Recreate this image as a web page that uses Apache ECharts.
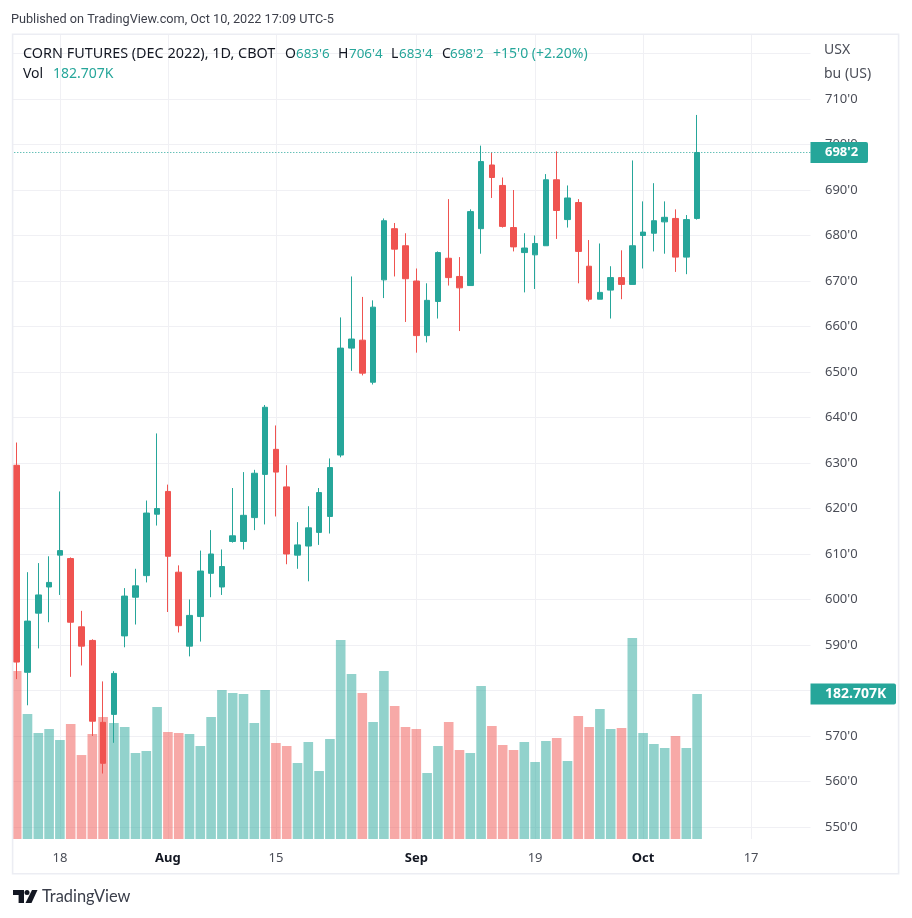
<!DOCTYPE html>
<html>
<head>
<meta charset="utf-8">
<title>Corn futures</title>
<script src="https://cdn.jsdelivr.net/npm/echarts@6/dist/echarts.min.js"></script>
<style>
  html,body{margin:0;padding:0;background:#fff;}
  #chart{width:912px;height:918px;}
</style>
</head>
<body>
<div id="chart"></div>
<script>
// prices in cents/bu (trading days from Jul 12 to Oct 10)
const openVals = [629.5,584,597,602.75,609.75,609,594,591,573,574.75,592,600.5,605.25,618.75,623.75,606,
  589.75,596.25,605.75,602.75,612.75,612.75,618,627.5,633,624.75,609.75,611.75,614.75,618.25,631.75,655.25,
  657,647.75,670.25,681.5,677.75,670,658,665.5,675,671,669,681.5,695.5,691,
  681.75,676.25,675.75,677.75,692.25,683.5,687.25,673.25,666,668,670.75,669.25,680,680.5,683,683.75,675.25,683.75];
const closeVals = [586.25,595.25,601,603.75,610.75,595,589.75,573.25,564,583.75,600.75,603,619,620,609.5,594.25,
  596.5,606.25,610,607.25,614,618.5,627.75,642.25,628,610,612,615.75,623.5,629,655.25,657.25,
  649.75,664.25,683.25,677,670.5,658,665.75,676.25,670.75,668.5,685.25,696.25,692.75,682,
  677.5,677.25,678.25,692.25,685.5,688.25,676.5,666,667.5,670.75,669.25,677.75,680.75,683.25,684,675.25,683.5,698.25];
const lowVals = [582.5,576.75,589.25,595,601,583,585.5,570,561.75,568.5,589.5,594.5,603.75,616.25,597.25,592.75,
  587.5,590.75,600.5,601,612.5,611,615.25,616.5,618.25,607.75,606.75,604,612,614.5,631.25,650.25,
  649.25,647.25,666.25,671,661,654.25,656.5,661.75,669,659,669,676,688.25,681.75,
  676.5,667.5,668.25,677.75,679.25,681.75,669.5,665.5,666,661.75,666,669.25,672.75,676.5,676,672,671.5,683.5];
const highVals = [634.5,606,608,609.5,623.75,609.25,597.5,591.25,582,584.25,602.5,606.75,621.75,636.5,625.25,607.5,
  600,610.75,615.25,611,624.5,628,628.5,642.75,638.25,629.5,617,620.5,624.5,631,662,671,
  666.5,665.75,683.75,682.75,680.5,672.75,669.5,676.5,688,675.25,685.75,699.75,698.25,692.75,
  690,680.5,680,693.5,698.5,691,688,679,678.25,673.25,676.75,696.5,687.5,691.5,687.5,685.75,684.5,706.5];
// volume in thousands
const volumes = [211.7,157.5,133.6,138.6,124.7,144.9,105.8,132.3,153.7,146.2,141.1,108.4,110.9,166.3,134.8,133.6,
  132.3,117.2,153.7,187.7,184,182.7,146.2,187.7,121,117.2,95.8,122.2,85.7,126,250.7,207.9,
  184,147.4,211.7,167.6,141.1,138.6,83.2,117.2,147.4,112.1,108.4,192.8,142.4,118.4,
  112.1,122.2,97,123.5,127.3,98.3,155,141.1,163.8,138.6,139.9,253.3,133.6,119.7,114.7,129.8,114.7,182.707];

const tickIndex = [4,14,24,37,48,58,68];
const tickText = ["18","Aug","15","Sep","19","Oct","17"];
const monthTicks = ["Aug","Sep","Oct"];
const BAND_COUNT = 74; // 64 sessions + empty space on the right

const UP = "#26a69a", DOWN = "#ef5350";
const UP_VOL = "rgba(38,166,154,0.5)", DOWN_VOL = "rgba(239,83,80,0.5)";
const GRID_LINE = "#f0f0f4", BORDER = "#ecedf3", TEXT = "#131722", AXIS_TEXT = "#4a4d57";
const FONT = '"Noto Sans", sans-serif';

const categories = Array.from({length:BAND_COUNT},(_,i)=>{
  const k = tickIndex.indexOf(i);
  return k>=0 ? tickText[k] : "";
});
const candles = openVals.map((o,i)=>[o,closeVals[i],lowVals[i],highVals[i]]);
const last = openVals.length-1;

// legend line: x, text, colour, font size
const legendLine1 = [
  [23,"CORN FUTURES (DEC 2022), 1D, CBOT",TEXT,14.4],[285,"O",TEXT,14],[296,"683'6",UP,13.4],
  [338,"H",TEXT,14],[349,"706'4",UP,13.4],[391,"L",TEXT,14],[399,"683'4",UP,13.4],[442,"C",TEXT,14],[450,"698'2",UP,13.4],
  [493,"+15'0 (+2.20%)",UP,14]
];
const legendLine2 = [[23,"Vol",TEXT,14],[53,"182.707K",UP,14]];

const txt = (x,y,s,fill,size=13,family=FONT) => ({
  type:"text",x,y,z:12,silent:true,
  style:{text:s,fill,font:`${size}px ${family}`,textVerticalAlign:"middle",textAlign:"left"}
});

const chart = echarts.init(document.getElementById("chart"));

chart.setOption({
  animation:false,
  backgroundColor:"#fff",
  textStyle:{fontFamily:FONT},
  grid:{left:11.3,top:35,width:BAND_COUNT*10.8,height:804},
  xAxis:{
    type:"category",data:categories,boundaryGap:true,
    axisLine:{show:false},axisTick:{show:false},
    axisLabel:{
      interval:(i,v)=>v!=="",margin:13,color:AXIS_TEXT,fontSize:13,
      formatter:(v)=>monthTicks.includes(v)?`{m|${v}}`:v,
      rich:{m:{fontWeight:"bold",color:TEXT,fontSize:13}}
    },
    splitLine:{show:true,alignWithLabel:true,interval:(i,v)=>v!=="",lineStyle:{color:GRID_LINE,width:1}}
  },
  yAxis:[
    {
      type:"value",position:"right",min:547.36,max:724.07,scale:true,
      splitNumber:17,minInterval:10,maxInterval:10,
      axisLine:{show:false},axisTick:{show:false},
      axisLabel:{
        color:AXIS_TEXT,fontSize:13,margin:14.5,showMinLabel:false,showMaxLabel:false,
        formatter:(v)=>(v%10===0 && v<=710)?`${v}'0`:""
      },
      splitLine:{show:true,showMinLine:false,showMaxLine:false,lineStyle:{color:GRID_LINE,width:1}}
    },
    {type:"value",show:false,min:0,max:1013.1,splitLine:{show:false}}
  ],
  series:[
    {
      name:"Vol",type:"bar",yAxisIndex:1,z:1,barWidth:9.6,
      data:volumes.map((v,i)=>({value:v,itemStyle:{color:closeVals[i]>=openVals[i]?UP_VOL:DOWN_VOL}}))
    },
    {
      name:"Corn",type:"candlestick",yAxisIndex:0,z:2,barWidth:6,clip:true,data:candles,
      itemStyle:{color:UP,color0:DOWN,borderColor:UP,borderColor0:DOWN,borderWidth:1},
      markLine:{
        silent:true,symbol:"none",animation:false,label:{show:false},
        lineStyle:{type:[1,2],color:UP,width:1},
        data:[{yAxis:closeVals[last]}]
      }
    }
  ]
});

const right = 11.3+BAND_COUNT*10.8;
const priceY = chart.convertToPixel({yAxisIndex:0},closeVals[last]);
const volY = chart.convertToPixel({yAxisIndex:1},volumes[last]);

const badge = (y,w,s,size) => ({
  type:"group",z:11,silent:true,children:[
    {type:"rect",z:11,shape:{x:right,y:y-10.5,width:w,height:21,r:[0,2,2,0]},style:{fill:UP}},
    {type:"text",z:12,x:825,y:y,style:{text:s,fill:"#fff",font:`bold ${size}px ${FONT}`,textAlign:"left",textVerticalAlign:"middle"}}
  ]
});

// frame, header, badges, logo are page furniture around the plot
chart.setOption({
  graphic:{elements:[
    {type:"rect",z:10,silent:true,shape:{x:9,y:34,width:3,height:840},style:{fill:"#fff"}},
    {type:"rect",z:10,silent:true,shape:{x:12.6,y:34.2,width:886,height:839.6},style:{fill:"none",stroke:BORDER,lineWidth:1.6}},
    txt(11,19.5,"Published on TradingView.com, Oct 10, 2022 17:09 UTC-5","#3c3f4a",12.7,"Roboto, sans-serif"),
    ...legendLine1.map(p=>txt(p[0],54,p[1],p[2],p[3])),
    ...legendLine2.map(p=>txt(p[0],74,p[1],p[2],p[3])),
    txt(824,50,"USX",AXIS_TEXT,14),
    txt(824,74,"bu (US)",AXIS_TEXT,14),
    badge(priceY,57.5,"698'2",13),
    badge(volY,85.5,"182.707K",14),
    // logo
    {type:"polygon",z:12,silent:true,shape:{points:[[13,890],[24,890],[24,903],[18.6,903],[18.6,895],[13,895]]},style:{fill:TEXT}},
    {type:"circle",z:12,silent:true,shape:{cx:27,cy:892.5,r:2.5},style:{fill:TEXT}},
    {type:"polygon",z:12,silent:true,shape:{points:[[32,890],[37.5,890],[31.5,903],[25.5,903]]},style:{fill:TEXT}},
    {type:"text",z:12,silent:true,x:42,y:897,style:{text:"TradingView",fill:"#3a3e4a",font:`16.4px Lato, ${FONT}`,textVerticalAlign:"middle"}}
  ]}
});
</script>
</body>
</html>
